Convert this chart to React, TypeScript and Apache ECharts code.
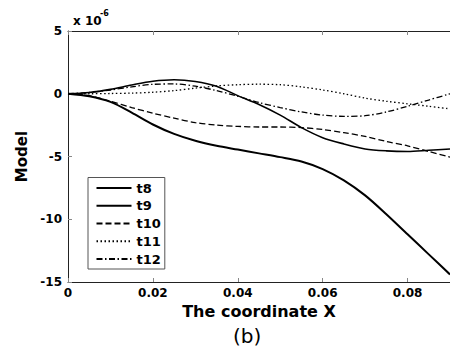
import React, { useEffect, useRef } from "react";
import * as echarts from "echarts";

const xs = [0, 0.005, 0.01, 0.015, 0.02, 0.025, 0.03, 0.035, 0.04, 0.045, 0.05, 0.055, 0.06, 0.065, 0.07, 0.075, 0.08, 0.085, 0.09];
const t8 = [0, -0.2, -0.65, -1.5, -2.45, -3.2, -3.75, -4.15, -4.45, -4.75, -5.05, -5.4, -6.0, -6.9, -8.1, -9.6, -11.2, -12.8, -14.4];
const t9 = [0, 0.1, 0.35, 0.7, 1.0, 1.12, 0.98, 0.6, -0.15, -0.85, -1.7, -2.7, -3.5, -4.0, -4.4, -4.55, -4.6, -4.5, -4.4];
const t10 = [0, -0.15, -0.6, -1.1, -1.55, -1.95, -2.3, -2.5, -2.6, -2.65, -2.65, -2.7, -2.85, -3.1, -3.4, -3.8, -4.15, -4.6, -5.05];
const t11 = [0, 0, 0.02, 0.05, 0.12, 0.25, 0.45, 0.62, 0.72, 0.76, 0.72, 0.55, 0.3, 0.0, -0.35, -0.6, -0.8, -1.0, -1.2];
const t12 = [0, 0.1, 0.3, 0.55, 0.75, 0.78, 0.6, 0.25, -0.2, -0.7, -1.1, -1.45, -1.7, -1.8, -1.75, -1.45, -1.0, -0.5, 0];
const seriesNames = ["t8", "t9", "t10", "t11", "t12"];
const xTicks = { min: 0, max: 0.09, interval: 0.02 };
const yTicks = { min: -15, max: 5, interval: 5 };

const FONT = "DejaVu Sans";

export default function App() {
  const ref = useRef<HTMLDivElement>(null);
  useEffect(() => {
    if (!ref.current) return;
    const chart = echarts.init(ref.current, null, { renderer: "svg" });
    const pair = (ys: number[]) => xs.map((x, i) => [x, ys[i]]);
    const styles: any[] = [
      { width: 2, type: "solid" },
      { width: 1.6, type: "solid" },
      { width: 1.3, type: [6, 3] },
      { width: 1.3, type: [1.5, 2.5] },
      { width: 1.3, type: [6, 2.5, 1.5, 2.5] },
    ];
    const datas = [t8, t9, t10, t11, t12];
    const labelStyle = { color: "#000", fontFamily: FONT, fontWeight: "bold" as const, fontSize: 12 };
    chart.setOption({
      animation: false,
      backgroundColor: "#fff",
      grid: { left: 68, top: 31, width: 385, height: 251, containLabel: false },
      xAxis: [
        {
          type: "value",
          min: xTicks.min,
          max: xTicks.max,
          interval: xTicks.interval,
          position: "bottom",
          name: "The coordinate X",
          nameLocation: "middle",
          nameGap: 18,
          nameTextStyle: { color: "#000", fontFamily: FONT, fontWeight: "bold", fontSize: 16 },
          axisLine: { show: true, onZero: false, lineStyle: { color: "#222", width: 1 } },
          axisTick: { show: true, inside: true, length: 4, lineStyle: { color: "#888" } },
          axisLabel: { ...labelStyle, margin: 5, showMaxLabel: false, formatter: (v: number) => (v === 0 ? "0" : String(+v.toFixed(2))) },
          splitLine: { show: false },
        },
        {
          type: "value",
          min: xTicks.min,
          max: xTicks.max,
          interval: xTicks.interval,
          position: "top",
          axisLine: { show: true, onZero: false, lineStyle: { color: "#222", width: 1 } },
          axisTick: { show: true, inside: true, length: 4, lineStyle: { color: "#888" } },
          axisLabel: { show: false },
          splitLine: { show: false },
        },
      ],
      yAxis: {
        type: "value",
        min: yTicks.min,
        max: yTicks.max,
        interval: yTicks.interval,
        name: "Model",
        nameLocation: "middle",
        nameGap: 39,
        nameTextStyle: { color: "#000", fontFamily: FONT, fontWeight: "bold", fontSize: 15 },
        axisLine: { show: true, onZero: false, lineStyle: { color: "#222", width: 1 } },
        axisTick: { show: true, inside: true, length: 4, lineStyle: { color: "#888" } },
        axisLabel: { ...labelStyle, margin: 6 },
        splitLine: { show: false },
      },
      legend: {
        show: true,
        orient: "vertical",
        left: 88,
        top: 177.5,
        itemWidth: 35,
        itemHeight: 14,
        itemGap: 3.75,
        itemStyle: { opacity: 0, borderWidth: 0 },
        padding: [3.5, 4, 3, 7.5],
        backgroundColor: "#fff",
        borderColor: "#555",
        borderWidth: 1,
        borderRadius: 0,
        textStyle: { color: "#000", fontFamily: FONT, fontWeight: "bold", fontSize: 13, lineHeight: 14 },
        data: seriesNames,
      },
      graphic: [
        { type: "text", left: 73, top: 15, style: { text: "x 10", fill: "#000", font: `bold 12px "${FONT}"` } },
        { type: "text", left: 100, top: 9, style: { text: "-6", fill: "#000", font: `bold 8px "${FONT}"` } },
        { type: "text", left: 233, top: 326, style: { text: "(b)", fill: "#000", font: `20px "${FONT}"` } },
      ],
      series: seriesNames.map((name, i) => ({
        name,
        type: "line",
        data: pair(datas[i]),
        smooth: 0.3,
        symbol: "none",
        showSymbol: false,
        itemStyle: { color: "#000" },
        lineStyle: { color: "#000", ...styles[i] },
        z: 2,
      })),
    });
    return () => chart.dispose();
  }, []);
  return <div ref={ref} style={{ position: "fixed", left: 0, top: 0, width: 450, height: 350 }} />;
}
